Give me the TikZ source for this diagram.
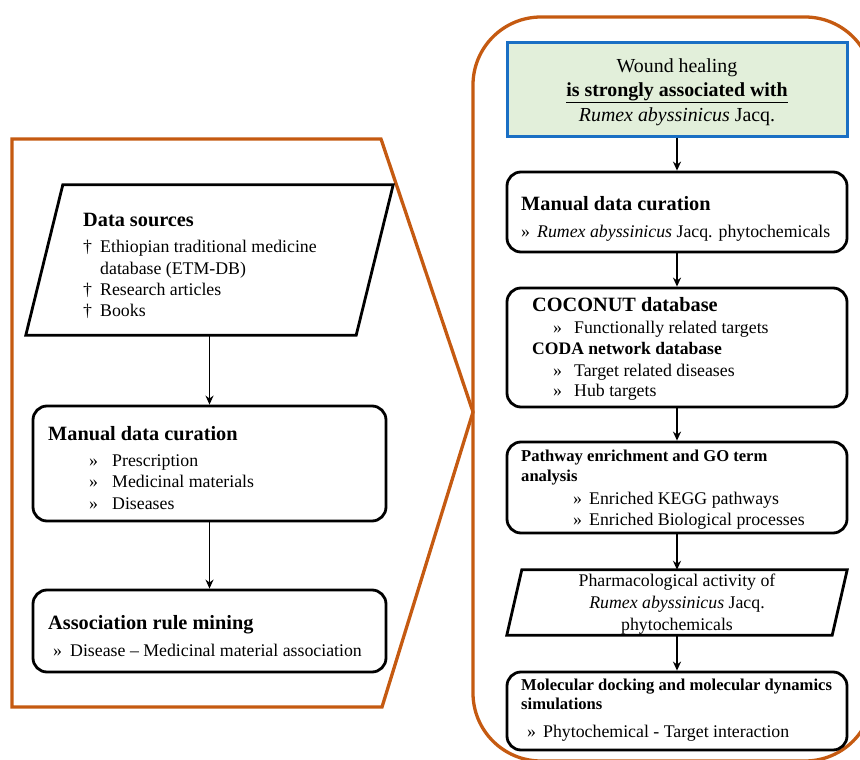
\documentclass[tikz,border=0pt]{standalone}
\usepackage{fontspec}
\setmainfont{Liberation Serif}
\usetikzlibrary{arrows.meta}
\definecolor{orng}{HTML}{C55A11}
\definecolor{bluebd}{HTML}{1A6FC4}
\definecolor{greenfl}{HTML}{E2EFDA}
\tikzset{
  orangeline/.style={draw=orng, line width=3.3pt, line join=miter},
  stepbox/.style={draw=black, line width=2.8pt, rounded corners=14pt, inner sep=0pt},
  ghost/.style={inner sep=0pt},
  arr/.style={-{Stealth[length=9pt,width=8pt]}, line width=1.8pt},
  txt/.style={anchor=base west, inner sep=0pt, font=\fontsize{17.8}{21}\selectfont},
  ctxt/.style={anchor=base, inner sep=0pt, font=\fontsize{17.8}{21}\selectfont},
  ttl/.style={anchor=base west, inner sep=0pt, font=\fontsize{20.3}{24}\selectfont\bfseries},
  sttl/.style={anchor=base west, inner sep=0pt, font=\fontsize{16.6}{20}\selectfont\bfseries},
  mttl/.style={anchor=base west, inner sep=0pt, font=\fontsize{17.6}{21}\selectfont\bfseries},
  wtxt/.style={anchor=base, inner sep=0pt, font=\fontsize{19.9}{24}\selectfont},
}
\begin{document}
\begin{tikzpicture}[x=1pt,y=-1pt]
\useasboundingbox (0,0) rectangle (860,760);
\clip (0,0) rectangle (860,760);

% orange frames
\draw[orangeline] (12,139) -- (381,139) -- (473,412) -- (382,707) -- (12,707) -- cycle;
\draw[orangeline, rounded corners=68pt] (473,17) rectangle (873,761);

% ---------- left column ----------
\node[ghost, minimum width=367pt, minimum height=150pt] (ds) at (209.5,260) {};
\draw[line width=2.8pt, line join=miter] ([xshift=37pt]ds.north west) -- (ds.north east)
  -- ([xshift=-37pt]ds.south east) -- (ds.south west) -- cycle;
\node[ttl] (ds1) at (83,226.7) {Data sources};
\node[txt] (ds2) at (83,252.7) {\makebox[17pt][l]{†}Ethiopian traditional medicine};
\node[txt] (ds3) at (100,274) {database (ETM-DB)};
\node[txt] (ds4) at (83,295.7) {\makebox[17pt][l]{†}Research articles};
\node[txt] (ds5) at (83,316.7) {\makebox[17pt][l]{†}Books};

\node[stepbox, minimum width=353pt, minimum height=115pt] (lm) at (209.5,463.5) {};
\node[ttl] (lm1) at (48,440) {Manual data curation};
\node[txt] (lm2) at (89,466.7) {\makebox[23pt][l]{»}Prescription};
\node[txt] (lm3) at (89,487.7) {\makebox[23pt][l]{»}Medicinal materials};
\node[txt] (lm4) at (89,509.3) {\makebox[23pt][l]{»}Diseases};

\node[stepbox, minimum width=353pt, minimum height=82pt] (ar) at (209.5,631) {};
\node[ttl] (ar1) at (48,629.3) {Association rule mining};
\node[txt] (ar2) at (53,656) {\makebox[17pt][l]{»}Disease \textendash{} Medicinal material association};

\draw[arr] (ds.south) -- (lm.north);
\draw[arr] (lm.south) -- (ar.north);

% ---------- right column ----------
\node[draw=bluebd, fill=greenfl, line width=3pt, inner sep=0pt,
      minimum width=340pt, minimum height=93pt] (wh) at (677,89.5) {};
\node[wtxt] (wh1) at (677,72.7) {Wound healing};
\node[wtxt] (wh2) at (677,96.7) {\bfseries\underline{is strongly associated with}};
\node[wtxt] (wh3) at (677,121.7) {\textit{Rumex abyssinicus} Jacq.};

\node[stepbox, minimum width=340pt, minimum height=80pt] (rm) at (677,212) {};
\node[ttl] (rm1) at (521,210.7) {Manual data curation};
\node[txt] (rm2) at (521,237.3) {\makebox[16pt][l]{»}\textit{Rumex abyssinicus} Jacq. phytochemicals};

\node[stepbox, minimum width=340pt, minimum height=119pt] (cc) at (677,347.5) {};
\node[ttl] (cc1) at (532,311.7) {COCONUT database};
\node[txt] (cc2) at (553,333.3) {\makebox[21pt][l]{»}Functionally related targets};
\node[mttl] (cc3) at (532,354.3) {CODA network database};
\node[txt] (cc4) at (553,376) {\makebox[21pt][l]{»}Target related diseases};
\node[txt] (cc5) at (553,396.7) {\makebox[21pt][l]{»}Hub targets};

\node[stepbox, minimum width=340pt, minimum height=91pt] (pw) at (677,487.5) {};
\node[sttl] (pw1) at (521,461.7) {Pathway enrichment and GO term};
\node[sttl] (pw2) at (521,481.7) {analysis};
\node[txt] (pw3) at (573,504) {\makebox[16pt][l]{»}Enriched KEGG pathways};
\node[txt] (pw4) at (573,525.3) {\makebox[16pt][l]{»}Enriched Biological processes};

\node[ghost, minimum width=340pt, minimum height=65pt] (pa) at (677,602.5) {};
\draw[line width=2.8pt, line join=miter] ([xshift=15pt]pa.north west) -- (pa.north east)
  -- ([xshift=-15pt]pa.south east) -- (pa.south west) -- cycle;
\node[ctxt] (pa1) at (677,586.7) {Pharmacological activity of};
\node[ctxt] (pa2) at (677,608.3) {\textit{Rumex abyssinicus} Jacq.};
\node[ctxt] (pa3) at (677,630) {phytochemicals};

\node[stepbox, minimum width=340pt, minimum height=78pt] (md) at (677,711) {};
\node[sttl] (md1) at (521,690) {Molecular docking and molecular dynamics};
\node[sttl] (md2) at (521,709.3) {simulations};
\node[txt] (md3) at (527,737.3) {\makebox[16pt][l]{»}Phytochemical - Target interaction};

\draw[arr] (wh.south) -- (rm.north);
\draw[arr] (rm.south) -- (cc.north);
\draw[arr] (cc.south) -- (pw.north);
\draw[arr] (pw.south) -- (pa.north);
\draw[arr] (pa.south) -- (md.north);
\end{tikzpicture}
\end{document}
